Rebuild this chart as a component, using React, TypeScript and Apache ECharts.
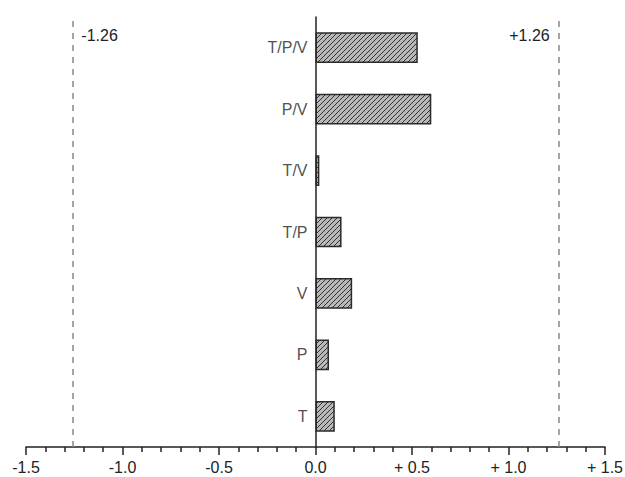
import React, { useEffect, useRef } from "react";
import * as echarts from "echarts";

const categories = ["T", "P", "V", "T/P", "T/V", "P/V", "T/P/V"];
const effects = [0.1, 0.07, 0.19, 0.135, 0.02, 0.6, 0.53];
const xTicks = [-1.5, -1.0, -0.5, 0.0, 0.5, 1.0, 1.5];
const criticalValues = [-1.26, 1.26];
const criticalLabels = ["-1.26", "+1.26"];

function fmtTick(v: number): string {
  const s = Math.abs(v).toFixed(1);
  if (v > 0) return "+ " + s;
  if (v < 0) return "-" + s;
  return s;
}

function makeHatch(): HTMLCanvasElement {
  const s = 5;
  const c = document.createElement("canvas");
  c.width = s;
  c.height = s;
  const ctx = c.getContext("2d")!;
  ctx.fillStyle = "#b8b8b8";
  ctx.fillRect(0, 0, s, s);
  ctx.strokeStyle = "#333333";
  ctx.lineWidth = 1;
  ctx.beginPath();
  ctx.moveTo(0, s);
  ctx.lineTo(s, 0);
  ctx.moveTo(-1, 1);
  ctx.lineTo(1, -1);
  ctx.moveTo(s - 1, s + 1);
  ctx.lineTo(s + 1, s - 1);
  ctx.stroke();
  return c;
}

export default function App() {
  const ref = useRef<HTMLDivElement>(null);
  useEffect(() => {
    if (!ref.current) return;
    const chart = echarts.init(ref.current, undefined, { renderer: "svg" });
    const hatch = makeHatch();
    const font = "Liberation Sans, Arial, sans-serif";
    const topCat = categories[categories.length - 1];
    chart.setOption({
      animation: false,
      grid: { left: 26, right: 20, top: 17, bottom: 30, containLabel: false, outerBoundsMode: "none" },
      xAxis: {
        type: "value",
        min: xTicks[0],
        max: xTicks[xTicks.length - 1],
        interval: 0.5,
        splitLine: { show: false },
        axisLine: { show: true, onZero: false, lineStyle: { color: "#222", width: 1.5 } },
        axisTick: { show: true, length: 8, lineStyle: { color: "#222", width: 1.5 } },
        minorTick: { show: true, splitNumber: 5, length: 5, lineStyle: { color: "#222", width: 1.5 } },
        axisLabel: {
          margin: 12,
          fontSize: 16,
          color: "#222",
          fontFamily: font,
          formatter: (v: number) => fmtTick(v),
        },
      },
      yAxis: {
        type: "category",
        data: categories,
        axisLine: { show: true, onZero: true, lineStyle: { color: "#222", width: 1.5 } },
        axisTick: { show: false },
        axisLabel: { show: false },
        splitLine: { show: false },
      },
      series: [
        {
          type: "bar",
          data: effects,
          barWidth: "50%",
          itemStyle: {
            color: { image: hatch, repeat: "repeat" },
            borderColor: "#2a2a2a",
            borderWidth: 1.5,
          },
          markLine: {
            silent: true,
            symbol: "none",
            label: { show: false },
            lineStyle: { color: "#888", type: [6, 6], width: 1.5 },
            data: criticalValues.map((v) => ({ xAxis: v })),
          },
          markPoint: {
            silent: true,
            symbol: "circle",
            symbolSize: 0,
            itemStyle: { color: "transparent" },
            data: criticalValues.map((v, i) => ({
              coord: [v, topCat],
              label: {
                show: true,
                formatter: criticalLabels[i],
                position: v < 0 ? "right" : "left",
                distance: 9,
                offset: [0, -12],
                fontSize: 16,
                color: "#222",
                fontFamily: font,
              },
            })),
          },
        },
        {
          type: "scatter",
          silent: true,
          symbolSize: 0,
          itemStyle: { color: "transparent" },
          data: categories.map((c) => [0, c]),
          label: {
            show: true,
            position: "left",
            distance: 8,
            fontSize: 16,
            color: "#222",
            fontFamily: font,
            formatter: (p: any) => p.value[1],
          },
        },
      ],
    });
    return () => chart.dispose();
  }, []);
  return <div ref={ref} style={{ width: 625, height: 477, position: "absolute", left: 0, top: 0 }} />;
}
